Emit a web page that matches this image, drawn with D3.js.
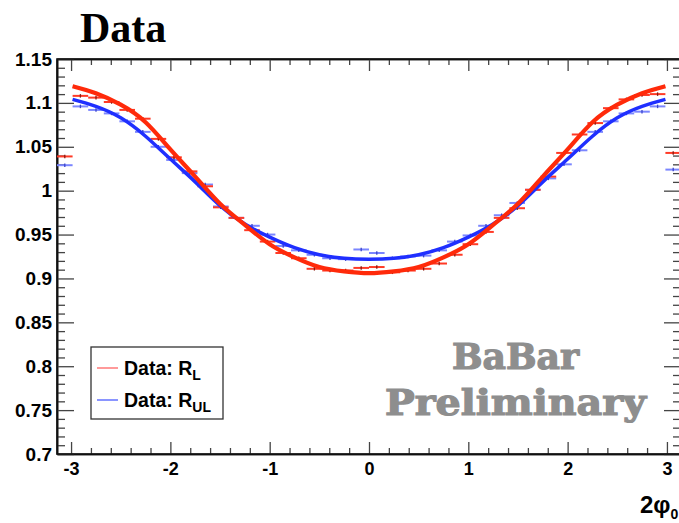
<!DOCTYPE html>
<html>
<head>
<meta charset="utf-8">
<script src="https://cdn.jsdelivr.net/npm/d3@7"></script>
<style>
  body { margin: 0; background: #fff; }
  svg { font-family: "Liberation Sans", Arial, sans-serif; }
</style>
</head>
<body>
<script>
// 40 bins over [-pi, pi]
const nBins = 40;
const redData = [1.039, 1.108, 1.106, 1.101, 1.092, 1.082, 1.059, 1.038, 1.022, 1.005,
                 0.981, 0.969, 0.955, 0.942, 0.929, 0.923, 0.911, 0.909, 0.909, 0.912,
                 0.913, 0.907, 0.909, 0.911, 0.917, 0.927, 0.939, 0.953, 0.969, 0.980,
                 1.001, 1.016, 1.043, 1.064, 1.077, 1.094, 1.104, 1.109, 1.110, 1.043];
const blueData = [1.029, 1.096, 1.092, 1.088, 1.079, 1.067, 1.050, 1.035, 1.020, 1.007,
                  0.982, 0.969, 0.960, 0.950, 0.937, 0.932, 0.927, 0.923, 0.922, 0.933,
                  0.929, 0.923, 0.925, 0.926, 0.932, 0.942, 0.949, 0.960, 0.972, 0.986,
                  1.001, 1.014, 1.030, 1.046, 1.067, 1.079, 1.088, 1.090, 1.096, 1.024];
const errY = 0.002;

// fitted curves
const fitX    = [-2.985, -2.75, -2.5, -2.25, -2.0, -1.75, -1.5, -1.25, -1.0, -0.75, -0.5, -0.25, 0,
                 0.25, 0.5, 0.75, 1.0, 1.25, 1.5, 1.75, 2.0, 2.25, 2.5, 2.75, 2.985];
const fitRed  = [1.119, 1.111, 1.098, 1.078, 1.047, 1.016, 0.985, 0.961, 0.939, 0.924, 0.913, 0.908, 0.906,
                 0.908, 0.913, 0.924, 0.939, 0.961, 0.985, 1.016, 1.047, 1.078, 1.098, 1.111, 1.119];
const fitBlue = [1.104, 1.096, 1.083, 1.062, 1.036, 1.010, 0.983, 0.962, 0.947, 0.935, 0.927, 0.923, 0.922,
                 0.923, 0.927, 0.935, 0.947, 0.962, 0.983, 1.010, 1.036, 1.062, 1.083, 1.096, 1.104];

const xMajor = [-3, -2, -1, 0, 1, 2, 3];
const yMajor = [0.7, 0.75, 0.8, 0.85, 0.9, 0.95, 1, 1.05, 1.1, 1.15];

const width = 679, height = 523;
const svg = d3.select('body').append('svg').attr('width', width).attr('height', height);

const x = d3.scaleLinear().domain([-Math.PI, Math.PI]).range([57, 681]);
const y = d3.scaleLinear().domain([0.7, 1.15]).range([454, 59]);

const xMinor = d3.range(-30, 31, 2).map(d => d / 10).filter(d => !xMajor.includes(d));
const yMinor = d3.range(70, 116, 1).map(d => d / 100).filter(d => Math.round(d * 100) % 5 !== 0);

// minor ticks
svg.append('g').attr('transform', 'translate(0,454)')
  .call(d3.axisBottom(x).tickValues(xMinor).tickSizeInner(-6).tickSizeOuter(0).tickFormat(''));
svg.append('g').attr('transform', 'translate(0,59)')
  .call(d3.axisTop(x).tickValues(xMinor).tickSizeInner(-6).tickSizeOuter(0).tickFormat(''));
svg.append('g').attr('transform', 'translate(57,0)')
  .call(d3.axisLeft(y).tickValues(yMinor).tickSizeInner(-8).tickSizeOuter(0).tickFormat(''));
svg.append('g').attr('transform', 'translate(681,0)')
  .call(d3.axisRight(y).tickValues(yMinor).tickSizeInner(-8).tickSizeOuter(0).tickFormat(''));

// major ticks + labels
const xAxis = svg.append('g').attr('transform', 'translate(0,454)')
  .call(d3.axisBottom(x).tickValues(xMajor).tickSizeInner(-12).tickSizeOuter(0).tickPadding(8)
    .tickFormat(d => String(d)));
svg.append('g').attr('transform', 'translate(0,59)')
  .call(d3.axisTop(x).tickValues(xMajor).tickSizeInner(-12).tickSizeOuter(0).tickFormat(''));
const yAxis = svg.append('g').attr('transform', 'translate(57,0)')
  .call(d3.axisLeft(y).tickValues(yMajor).tickSizeInner(-17).tickSizeOuter(0).tickPadding(5)
    .tickFormat(d => String(d)));
svg.append('g').attr('transform', 'translate(681,0)')
  .call(d3.axisRight(y).tickValues(yMajor).tickSizeInner(-17).tickSizeOuter(0).tickFormat(''));

svg.selectAll('.tick line').attr('stroke', '#444').attr('stroke-width', 1.3);
svg.selectAll('.domain').attr('stroke', '#111').attr('stroke-width', 1.6);
xAxis.selectAll('text').style('font-family', '"Liberation Sans", Arial, sans-serif')
  .attr('font-size', 18).attr('font-weight', 'bold').attr('fill', '#000');
yAxis.selectAll('text').style('font-family', '"Liberation Sans", Arial, sans-serif')
  .attr('font-size', 19).attr('font-weight', 'bold').attr('fill', '#000');

// frame
svg.append('rect').attr('x', 57).attr('y', 59).attr('width', 624).attr('height', 395)
  .attr('fill', 'none').attr('stroke', '#111').attr('stroke-width', 1.6);

// data points
const binW = 2 * Math.PI / nBins;
function drawPoints(data, barColor, errColor, cls) {
  const g = svg.append('g').attr('class', cls);
  data.forEach((v, i) => {
    const lo = -Math.PI + i * binW, hi = lo + binW, c = lo + binW / 2;
    g.append('line').attr('x1', x(lo)).attr('x2', x(hi)).attr('y1', y(v)).attr('y2', y(v))
      .attr('stroke', barColor).attr('stroke-width', 2);
    g.append('line').attr('x1', x(c)).attr('x2', x(c)).attr('y1', y(v - errY)).attr('y2', y(v + errY))
      .attr('stroke', errColor).attr('stroke-width', 1.3);
  });
}
drawPoints(blueData, '#7b86ff', '#3a44cc', 'blue-pts');
drawPoints(redData, '#ff3a26', '#8a1a10', 'red-pts');

// fit curves
const line = d3.line().x((d, i) => x(fitX[i])).y(d => y(d)).curve(d3.curveNatural);
svg.append('path').attr('d', line(fitBlue)).attr('fill', 'none')
  .attr('stroke', '#1f2fff').attr('stroke-width', 3.5);
svg.append('path').attr('d', line(fitRed)).attr('fill', 'none')
  .attr('stroke', '#ff2a0a').attr('stroke-width', 4.2);

// legend
const lg = svg.append('g');
lg.append('rect').attr('x', 91).attr('y', 347).attr('width', 132).attr('height', 72)
  .attr('fill', '#fff').attr('stroke', '#333').attr('stroke-width', 1.3);
lg.append('line').attr('x1', 97).attr('x2', 118).attr('y1', 368).attr('y2', 368)
  .attr('stroke', '#ff9a9a').attr('stroke-width', 2);
lg.append('line').attr('x1', 97).attr('x2', 118).attr('y1', 400).attr('y2', 400)
  .attr('stroke', '#4b5cff').attr('stroke-width', 1.3);
const t1 = lg.append('text').attr('x', 124).attr('y', 375).attr('font-size', 19.5).attr('font-weight', 'bold');
t1.append('tspan').text('Data: R');
t1.append('tspan').attr('font-size', 14).attr('dy', 5).text('L');
const t2 = lg.append('text').attr('x', 124).attr('y', 407).attr('font-size', 19.5).attr('font-weight', 'bold');
t2.append('tspan').text('Data: R');
t2.append('tspan').attr('font-size', 14).attr('dy', 5).text('UL');

// BaBar label
const serif = '"DejaVu Serif", "Liberation Serif", serif';
svg.append('text').attr('x', 452).attr('y', 369).attr('textLength', 127).attr('lengthAdjust', 'spacingAndGlyphs')
  .style('font-family', serif).attr('font-weight', 'bold').attr('font-size', 35)
  .attr('fill', '#8e8e8e').attr('stroke', '#8e8e8e').attr('stroke-width', 1.2).text('BaBar');
svg.append('text').attr('x', 385).attr('y', 415).attr('textLength', 261).attr('lengthAdjust', 'spacingAndGlyphs')
  .style('font-family', serif).attr('font-weight', 'bold').attr('font-size', 35)
  .attr('fill', '#8e8e8e').attr('stroke', '#8e8e8e').attr('stroke-width', 1.2).text('Preliminary');

// title
svg.append('text').attr('x', 80).attr('y', 42)
  .style('font-family', '"Liberation Serif", "Times New Roman", serif')
  .attr('font-weight', 'bold').attr('font-size', 42).text('Data');

// x axis title
const xt = svg.append('text').attr('x', 640).attr('y', 513).attr('font-size', 24).attr('font-weight', 'bold');
xt.append('tspan').text('2φ');
xt.append('tspan').attr('font-size', 14).attr('dy', 6).text('0');
</script>
</body>
</html>
